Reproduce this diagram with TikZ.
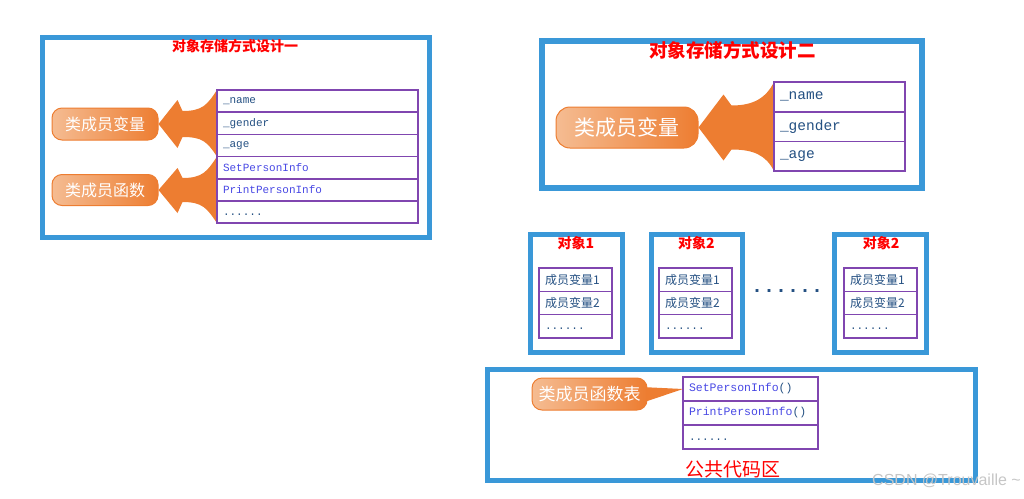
\documentclass[tikz,border=0pt]{standalone}
\usepackage{fontspec}
\usepackage{tikz}
\usetikzlibrary{positioning,calc,backgrounds}

\newfontfamily\cjk{Noto Sans CJK SC}
\newfontfamily\mono{Liberation Mono}
\newfontfamily\wmark{Liberation Sans}

\definecolor{frameblue}{RGB}{58,152,216}
\definecolor{cellpurple}{RGB}{128,70,176}
\definecolor{varblue}{RGB}{36,80,130}
\definecolor{funcblue}{RGB}{72,72,228}
\definecolor{pillorange}{RGB}{237,125,49}
\definecolor{pilllight}{RGB}{245,188,146}
\definecolor{titlered}{RGB}{255,0,0}

\newcommand{\fs}[1]{\fontsize{#1}{#1}\selectfont}

\begin{document}
\begin{tikzpicture}[x=1pt, y=-1pt,
  frame/.style={draw=frameblue, line width=5pt, inner sep=0pt},
  title/.style={text=titlered, font=\cjk\bfseries\fs{14}, inner sep=0pt},
  cell/.style={draw=cellpurple, line width=1.6pt, inner xsep=6pt, inner ysep=0pt, outer sep=0pt, align=left},
  var/.style={cell, text=varblue, font=\mono\fs{11}},
  func/.style={cell, text=funcblue, font=\mono\fs{11}},
  dotrow/.style={font=\mono\fs{11}, text height=6pt, text depth=0pt},
  tabone/.style={text width=189pt, minimum height=22.2pt},
  tabtwo/.style={text width=119pt, minimum height=29.7pt, font=\mono\fs{14.5}},
  tabobj/.style={text width=61pt, minimum height=23.3pt, font=\cjk\fs{12}},
  tabpub/.style={text width=123pt, minimum height=24pt, font=\mono\fs{11.5}},
  pill/.style={rounded corners=10pt, draw=pillorange, line width=1pt, left color=pilllight, right color=pillorange, text=white, font=\cjk\fs{16}, inner sep=0pt},
  bigarrow/.style={fill=pillorange}
]
\useasboundingbox (0,0) rectangle (1024,498);

% design one
\node[frame, minimum width=387pt, minimum height=200pt] (frameone) at (235.75,137.5) {};
\node[title] (titleone) at (235,46) {对象存储方式设计一};

\node[var, tabone, anchor=north west] (n1) at (217,90) {\_name};
\node[var, tabone, below=0pt of n1] (n2) {\_gender};
\node[var, tabone, below=0pt of n2] (n3) {\_age};
\node[func, tabone, below=0pt of n3] (f1) {SetPersonInfo};
\node[func, tabone, below=0pt of f1] (f2) {PrintPersonInfo};
\node[var, tabone, dotrow, below=0pt of f2] (f3) {......};

\node[pill, minimum width=106pt, minimum height=32pt] (pv) at (105,124) {类成员变量};
\node[pill, minimum width=106pt, minimum height=31pt] (pf) at (105,190) {类成员函数};

% design two
\node[frame, line width=6pt, minimum width=380pt, minimum height=147pt] (frametwo) at (731.5,114) {};
\node[title, font=\cjk\bfseries\fs{18.5}] (titletwo) at (732.5,50.5) {对象存储方式设计二};

\node[var, tabtwo, anchor=north west] (m1) at (774,82) {\_name};
\node[var, tabtwo, below=0pt of m1] (m2) {\_gender};
\node[var, tabtwo, below=0pt of m2] (m3) {\_age};

\node[pill, rounded corners=14pt, minimum width=142pt, minimum height=41pt, font=\cjk\fs{21}] (pvtwo) at (627,127.5) {类成员变量};

% objects
\node[frame, minimum width=92pt, minimum height=118pt] (obja) at (576.5,293.5) {};
\node[title] (titlea) at (576,243.5) {对象1};
\node[var, tabobj, anchor=north west] (a1) at (539,268) {成员变量1};
\node[var, tabobj, below=0pt of a1] (a2) {成员变量2};
\node[var, tabobj, dotrow, below=0pt of a2] (a3) {......};

\node[frame, minimum width=91pt, minimum height=118pt] (objb) at (697,293.5) {};
\node[title] (titleb) at (696.5,243.5) {对象2};
\node[var, tabobj, anchor=north west] (b1) at (659,268) {成员变量1};
\node[var, tabobj, below=0pt of b1] (b2) {成员变量2};
\node[var, tabobj, dotrow, below=0pt of b2] (b3) {......};

\node[text=varblue, font=\mono\bfseries\fs{20}, inner sep=0pt] (dots) at (787,291) {......};

\node[frame, minimum width=92pt, minimum height=118pt] (objc) at (880.5,293.5) {};
\node[title] (titlec) at (881,243.5) {对象2};
\node[var, tabobj, anchor=north west] (c1) at (844,268) {成员变量1};
\node[var, tabobj, below=0pt of c1] (c2) {成员变量2};
\node[var, tabobj, dotrow, below=0pt of c2] (c3) {......};

% shared code area
\node[frame, minimum width=488pt, minimum height=111pt] (pub) at (731.5,425) {};
\node[func, tabpub, anchor=north west] (s1) at (683,377) {SetPersonInfo\textcolor{varblue}{()}};
\node[func, tabpub, below=0pt of s1] (s2) {PrintPersonInfo\textcolor{varblue}{()}};
\node[var, tabpub, dotrow, below=0pt of s2] (s3) {......};
\node[text=titlered, font=\cjk\fs{19}, inner sep=0pt] (pubname) at (733,469) {公共代码区};

\node[pill, minimum width=115pt, minimum height=32pt, font=\cjk\fs{17}] (pc) at (589.5,394) {类成员函数表};

\node[text=gray!45, font=\wmark\fs{16}, anchor=east, inner sep=0pt] (mark) at (1021,481) {CSDN @Trouvaille \textasciitilde};

% fat arrows
\begin{scope}[on background layer]
\fill[bigarrow] (pv.east) -- ($(pv.east)+(19,-24)$) -- ($(pv.east)+(24,-13)$)
  .. controls ($(pv.east)+(44,-13)$) and ($(n1.north west)+(-10,15)$) .. (n1.north west)
  -- (n3.south west)
  .. controls ($(n3.south west)+(-10,-15)$) and ($(pv.east)+(44,13)$) .. ($(pv.east)+(24,13)$)
  -- ($(pv.east)+(19,24)$) -- cycle;
\fill[bigarrow] (pf.east) -- ($(pf.east)+(19,-22)$) -- ($(pf.east)+(24,-12)$)
  .. controls ($(pf.east)+(44,-12)$) and ($(f1.north west)+(-10,15)$) .. (f1.north west)
  -- (f3.south west)
  .. controls ($(f3.south west)+(-10,-15)$) and ($(pf.east)+(44,12)$) .. ($(pf.east)+(24,12)$)
  -- ($(pf.east)+(19,23)$) -- cycle;
\fill[bigarrow] (pvtwo.east) -- ($(pvtwo.east)+(25,-33)$) -- ($(pvtwo.east)+(33,-22)$)
  .. controls ($(pvtwo.east)+(55,-22)$) and ($(m1.north west)+(-8,16)$) .. (m1.north west)
  -- (m3.south west)
  .. controls ($(m3.south west)+(-8,-16)$) and ($(pvtwo.east)+(55,22)$) .. ($(pvtwo.east)+(33,22)$)
  -- ($(pvtwo.east)+(25,33)$) -- cycle;
\fill[bigarrow] ($(pc.east)+(-6,-7)$) -- (s1.west) -- ($(pc.east)+(-6,9)$) -- cycle;
\end{scope}
\end{tikzpicture}
\end{document}
